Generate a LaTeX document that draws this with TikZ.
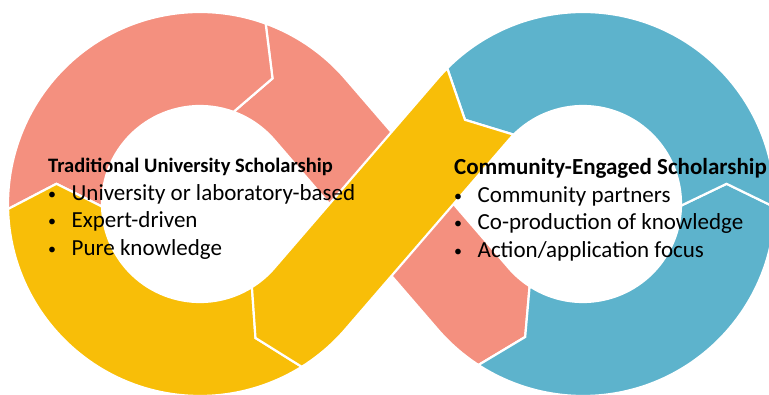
\documentclass[tikz,border=0pt]{standalone}
\usepackage{fontspec}
\setmainfont{Carlito}
\usetikzlibrary{positioning,calc}

\definecolor{salmon}{HTML}{F4907F}
\definecolor{gold}{HTML}{F8BE08}
\definecolor{cesblue}{HTML}{5DB3CC}

% ring radii (outer, centre line, inner) and tangent angle of the crossing
\def\Ro{192pt}
\def\Rc{145pt}
\def\Ri{98pt}
\def\tg{40.78}
\newcommand{\bul}{\makebox[23.5pt][l]{\raisebox{1pt}{\fontsize{16}{16}\selectfont\textbullet}}}

\tikzset{
  seg/.style={draw=white, line width=2.2pt, line join=miter},
  head/.style={inner sep=0pt, font=\bfseries\fontsize{20.5}{24}\selectfont},
  item/.style={inner sep=0pt, font=\fontsize{23}{28}\selectfont},
}

\begin{document}
\begin{tikzpicture}
      \useasboundingbox (0,0) rectangle (769pt,395pt);
      \fill[white] (0,0) rectangle (769pt,395pt);
      \clip (0,0) rectangle (769pt,395pt);

      \coordinate (L) at (200pt,191pt);
      \coordinate (R) at (583pt,191pt);

      % salmon band from the top of the left loop through the crossing
      \path[seg, fill=salmon] ($(L)+(70:\Ro)$) -- ($(L)+(60:\Rc)$) -- ($(L)+(70:\Ri)$)
            arc[start angle=70, end angle=\tg, radius=\Ri]
            -- ($(R)+({180+\tg}:\Ro)$)
            arc[start angle={180+\tg}, end angle=237, radius=\Ro]
            -- ($(R)+(246.5:\Rc)$) -- ($(R)+(237:\Ri)$)
            arc[start angle=237, end angle={180+\tg}, radius=\Ri]
            -- ($(L)+(\tg:\Ro)$)
            arc[start angle=\tg, end angle=70, radius=\Ro] -- cycle;

      % salmon arc, left loop
      \path[seg, fill=salmon] ($(L)+(181.5:\Ro)$) -- ($(L)+(172:\Rc)$) -- ($(L)+(181.5:\Ri)$)
            arc[start angle=181.5, end angle=70, radius=\Ri]
            -- ($(L)+(60:\Rc)$) -- ($(L)+(70:\Ro)$)
            arc[start angle=70, end angle=181.5, radius=\Ro] -- cycle;

      % yellow arc, left loop
      \path[seg, fill=gold] ($(L)+(-58:\Ro)$) -- ($(L)+(-67.5:\Rc)$) -- ($(L)+(-58:\Ri)$)
            arc[start angle=-58, end angle=-178.5, radius=\Ri]
            -- ($(L)+(-188:\Rc)$) -- ($(L)+(-178.5:\Ro)$)
            arc[start angle=-178.5, end angle=-58, radius=\Ro] -- cycle;

      % blue arcs, right loop
      \path[seg, fill=cesblue] ($(R)+(237:\Ro)$) -- ($(R)+(246.5:\Rc)$) -- ($(R)+(237:\Ri)$)
            arc[start angle=237, end angle=359, radius=\Ri]
            -- ($(R)+(368:\Rc)$) -- ($(R)+(359:\Ro)$)
            arc[start angle=359, end angle=237, radius=\Ro] -- cycle;
      \path[seg, fill=cesblue] ($(R)+(-1:\Ro)$) -- ($(R)+(8:\Rc)$) -- ($(R)+(-1:\Ri)$)
            arc[start angle=-1, end angle=135, radius=\Ri]
            -- ($(R)+(144.5:\Rc)$) -- ($(R)+(135:\Ro)$)
            arc[start angle=135, end angle=-1, radius=\Ro] -- cycle;

      % yellow band over the crossing
      \path[seg, fill=gold] ($(R)+(135:\Ro)$) -- ($(R)+(144.5:\Rc)$) -- ($(R)+(135:\Ri)$)
            arc[start angle=135, end angle={180-\tg}, radius=\Ri]
            -- ($(L)+(-\tg:\Ro)$)
            arc[start angle=-\tg, end angle=-58, radius=\Ro]
            -- ($(L)+(-67.5:\Rc)$) -- ($(L)+(-58:\Ri)$)
            arc[start angle=-58, end angle=-\tg, radius=\Ri]
            -- ($(R)+({180-\tg}:\Ro)$)
            arc[start angle={180-\tg}, end angle=135, radius=\Ro] -- cycle;

      % texts
      \node[head, anchor=base west](trad) at (48pt,222pt){Traditional University Scholarship};
      \node[item, below=27.5pt of trad.base west, anchor=base west](trad1){\bul University or laboratory-based};
      \node[item, below=27.5pt of trad1.base west, anchor=base west](trad2){\bul Expert-driven};
      \node[item, below=27.5pt of trad2.base west, anchor=base west](trad3){\bul Pure knowledge};

      \node[head, anchor=base west, font=\bfseries\fontsize{23}{28}\selectfont](comm) at (454pt,220pt){Community-Engaged Scholarship};
      \node[item, below=27.5pt of comm.base west, anchor=base west](comm1){\bul Community partners};
      \node[item, below=27.5pt of comm1.base west, anchor=base west](comm2){\bul Co-production of knowledge};
      \node[item, below=27.5pt of comm2.base west, anchor=base west](comm3){\bul Action/application focus};
\end{tikzpicture}
\end{document}
